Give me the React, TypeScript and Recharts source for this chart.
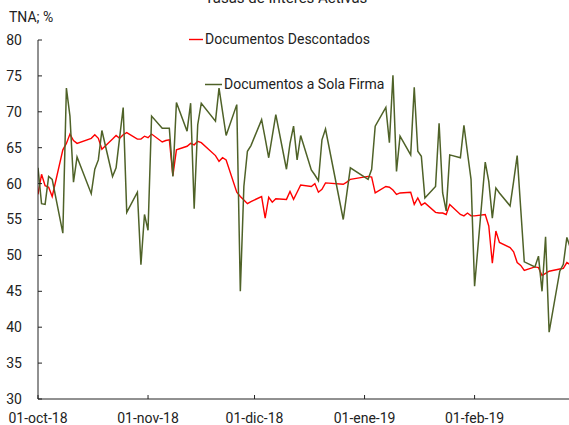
import React from 'react';
import { LineChart, Line, XAxis, YAxis } from 'recharts';

// Fechas hábiles (oct-18 a feb-19)
const fechas = [
  '2018-10-01', '2018-10-02', '2018-10-03', '2018-10-04', '2018-10-05',
  '2018-10-08', '2018-10-09', '2018-10-10', '2018-10-11', '2018-10-12',
  '2018-10-16', '2018-10-17', '2018-10-18', '2018-10-19',
  '2018-10-22', '2018-10-23', '2018-10-24', '2018-10-25', '2018-10-26',
  '2018-10-29', '2018-10-30', '2018-10-31', '2018-11-01', '2018-11-02',
  '2018-11-05', '2018-11-06', '2018-11-07', '2018-11-08', '2018-11-09',
  '2018-11-12', '2018-11-13', '2018-11-14', '2018-11-15', '2018-11-16',
  '2018-11-20', '2018-11-21', '2018-11-22', '2018-11-23',
  '2018-11-26', '2018-11-27', '2018-11-28', '2018-11-29', '2018-11-30',
  '2018-12-03', '2018-12-04', '2018-12-05', '2018-12-06', '2018-12-07',
  '2018-12-10', '2018-12-11', '2018-12-12', '2018-12-13', '2018-12-14',
  '2018-12-17', '2018-12-18', '2018-12-19', '2018-12-20', '2018-12-21',
  '2018-12-26', '2018-12-27', '2018-12-28',
  '2019-01-02', '2019-01-03', '2019-01-04',
  '2019-01-07', '2019-01-08', '2019-01-09', '2019-01-10', '2019-01-11',
  '2019-01-14', '2019-01-15', '2019-01-16', '2019-01-17', '2019-01-18',
  '2019-01-21', '2019-01-22', '2019-01-23', '2019-01-24', '2019-01-25',
  '2019-01-28', '2019-01-29', '2019-01-30', '2019-01-31', '2019-02-01',
  '2019-02-04', '2019-02-05', '2019-02-06', '2019-02-07', '2019-02-08',
  '2019-02-11', '2019-02-12', '2019-02-13', '2019-02-14', '2019-02-15',
  '2019-02-18', '2019-02-19', '2019-02-20', '2019-02-21', '2019-02-22',
  '2019-02-25', '2019-02-26', '2019-02-27', '2019-02-28',
];

const descontados = [
  58.5, 61.3, 59.7, 59.5, 58.2,
  64.7, 65.6, 66.9, 66.0, 65.6,
  66.3, 66.8, 66.3, 64.8,
  66.2, 66.7, 66.3, 66.8, 67.1,
  66.2, 66.2, 66.6, 66.4, 66.9,
  65.8, 66.0, 66.1, 61.1, 64.7,
  65.2, 65.6, 65.4, 65.9, 65.7,
  63.9, 63.1, 63.6, 63.3,
  58.8, 58.2, 57.7, 57.2, 57.5,
  58.2, 55.2, 58.1, 57.4, 57.9,
  57.8, 58.9, 57.8, 58.8, 59.8,
  59.6, 60.0, 58.8, 59.2, 60.1,
  59.9, 60.2, 60.6,
  61.0, 60.9, 58.7,
  59.6, 59.5, 59.1, 58.5, 58.7,
  58.8, 57.1, 58.0, 57.0, 57.3,
  56.0, 55.9, 55.9, 55.7, 57.1,
  55.7, 55.5, 55.9, 55.5, 55.5,
  55.7, 54.1, 48.9, 53.4, 51.8,
  51.1, 50.5, 49.0, 48.6, 47.9,
  48.4, 48.3, 47.2, 47.5, 47.8,
  48.1, 48.2, 49.0, 48.7,
];

const solaFirma = [
  62.2, 57.2, 57.1, 61.0, 60.6,
  53.1, 73.3, 69.4, 60.2, 63.7,
  58.6, 62.0, 63.3, 67.4,
  61.0, 62.2, 66.4, 70.6, 56.0,
  58.8, 48.7, 55.7, 53.5, 69.4,
  67.7, 67.7, 67.7, 61.0, 71.3,
  67.3, 71.2, 56.5, 68.2, 71.2,
  68.7, 73.3, 70.0, 66.7,
  71.0, 45.0, 59.6, 64.5, 65.3,
  68.9, 66.3, 63.6, 66.6, 69.6,
  62.0, 65.6, 68.0, 63.3, 66.7,
  61.9, 61.2, 60.4, 66.1, 67.6,
  55.0, 58.6, 62.2,
  60.6, 62.0, 68.0,
  70.6, 65.7, 75.1, 61.7, 66.6,
  64.0, 73.4, 64.5, 63.8, 58.0,
  59.6, 68.4, 58.7, 56.2, 64.0,
  63.6, 68.1, 64.3, 60.6, 45.7,
  63.0, 60.3, 55.2, 59.4, 58.7,
  56.9, 60.3, 63.9, 56.5, 49.1,
  48.4, 49.9, 45.0, 52.6, 39.3,
  47.8, 48.75, 52.5, 51.0,
];

const ticksX = ['2018-10-01', '2018-11-01', '2018-12-01', '2019-01-01', '2019-02-01'];
const ticksY = [30, 35, 40, 45, 50, 55, 60, 65, 70, 75, 80];
const meses = ['ene', 'feb', 'mar', 'abr', 'may', 'jun', 'jul', 'ago', 'sep', 'oct', 'nov', 'dic'];

const DAY = 86400000;
const data = fechas.map((f, i) => ({
  t: Date.parse(f),
  descontados: descontados[i],
  solaFirma: solaFirma[i],
}));

const inicio = Date.parse('2018-10-01');
const fin = inicio + 149.6 * DAY;

const fmtFecha = (t: number) => {
  const d = new Date(t);
  const dd = String(d.getUTCDate()).padStart(2, '0');
  const yy = String(d.getUTCFullYear()).slice(2);
  return `${dd}-${meses[d.getUTCMonth()]}-${yy}`;
};

const FONT = 'Roboto, sans-serif';
const TXT = '#222';
const ROJO = '#ff0000';
const VERDE = '#4f6228';

// ticks hacia adentro, como en Excel
const XTick = (props: any) => {
  const { x, y, payload } = props;
  const ejeY = y - 14;
  return (
    <g>
      <line x1={x} y1={ejeY} x2={x} y2={ejeY - 4} stroke={TXT} />
      <text x={x} y={y} dy="0.71em" textAnchor="middle" fill={TXT} fontSize={14} fontFamily={FONT}>
        {fmtFecha(payload.value)}
      </text>
    </g>
  );
};

const YTick = (props: any) => {
  const { x, y, payload } = props;
  const ejeX = x + 16;
  return (
    <g>
      <line x1={ejeX} y1={y} x2={ejeX + 4} y2={y} stroke={TXT} />
      <text x={x} y={y} dy="0.355em" textAnchor="end" fill={TXT} fontSize={14} fontFamily={FONT}>
        {payload.value}
      </text>
    </g>
  );
};

export default function App() {
  return (
    <div style={{ position: 'relative', width: 569, height: 425, background: '#fff', overflow: 'hidden' }}>
      <style>{`body { margin: 0; }`}</style>
      <LineChart width={569} height={425} data={data} margin={{ top: 40, right: 0, bottom: 0, left: 0 }}>
        <XAxis
          dataKey="t"
          type="number"
          domain={[inicio, fin]}
          allowDataOverflow
          ticks={ticksX.map((f) => Date.parse(f))}
          interval={0}
          height={26}
          stroke={TXT}
          tickLine={false}
          tickSize={0}
          tickMargin={14}
          tick={(p: any) => <XTick {...p} />}
        />
        <YAxis
          type="number"
          domain={[30, 80]}
          ticks={ticksY}
          interval={0}
          width={38}
          stroke={TXT}
          tickLine={false}
          tickSize={0}
          tickMargin={16}
          tick={(p: any) => <YTick {...p} />}
        />
        <Line type="linear" dataKey="descontados" stroke={ROJO} strokeWidth={1.4} dot={false} isAnimationActive={false} />
        <Line type="linear" dataKey="solaFirma" stroke={VERDE} strokeWidth={1.5} dot={false} isAnimationActive={false} />
      </LineChart>
      <svg width={569} height={425} style={{ position: 'absolute', left: 0, top: 0, pointerEvents: 'none' }}>
        <text x={286} y={3} textAnchor="middle" fill={TXT} fontSize={15} fontFamily={FONT}>
          Tasas de Interés Activas
        </text>
        <text x={9} y={22} fill={TXT} fontSize={14} fontFamily={FONT}>
          TNA; %
        </text>
        <line x1={189} y1={39.5} x2={203} y2={39.5} stroke={ROJO} strokeWidth={1.4} />
        <text x={205} y={44} fill={TXT} fontSize={14} fontFamily={FONT}>
          Documentos Descontados
        </text>
        <line x1={205} y1={84.5} x2={222} y2={84.5} stroke={VERDE} strokeWidth={1.5} />
        <text x={224} y={89} fill={TXT} fontSize={14} fontFamily={FONT}>
          Documentos a Sola Firma
        </text>
      </svg>
    </div>
  );
}
